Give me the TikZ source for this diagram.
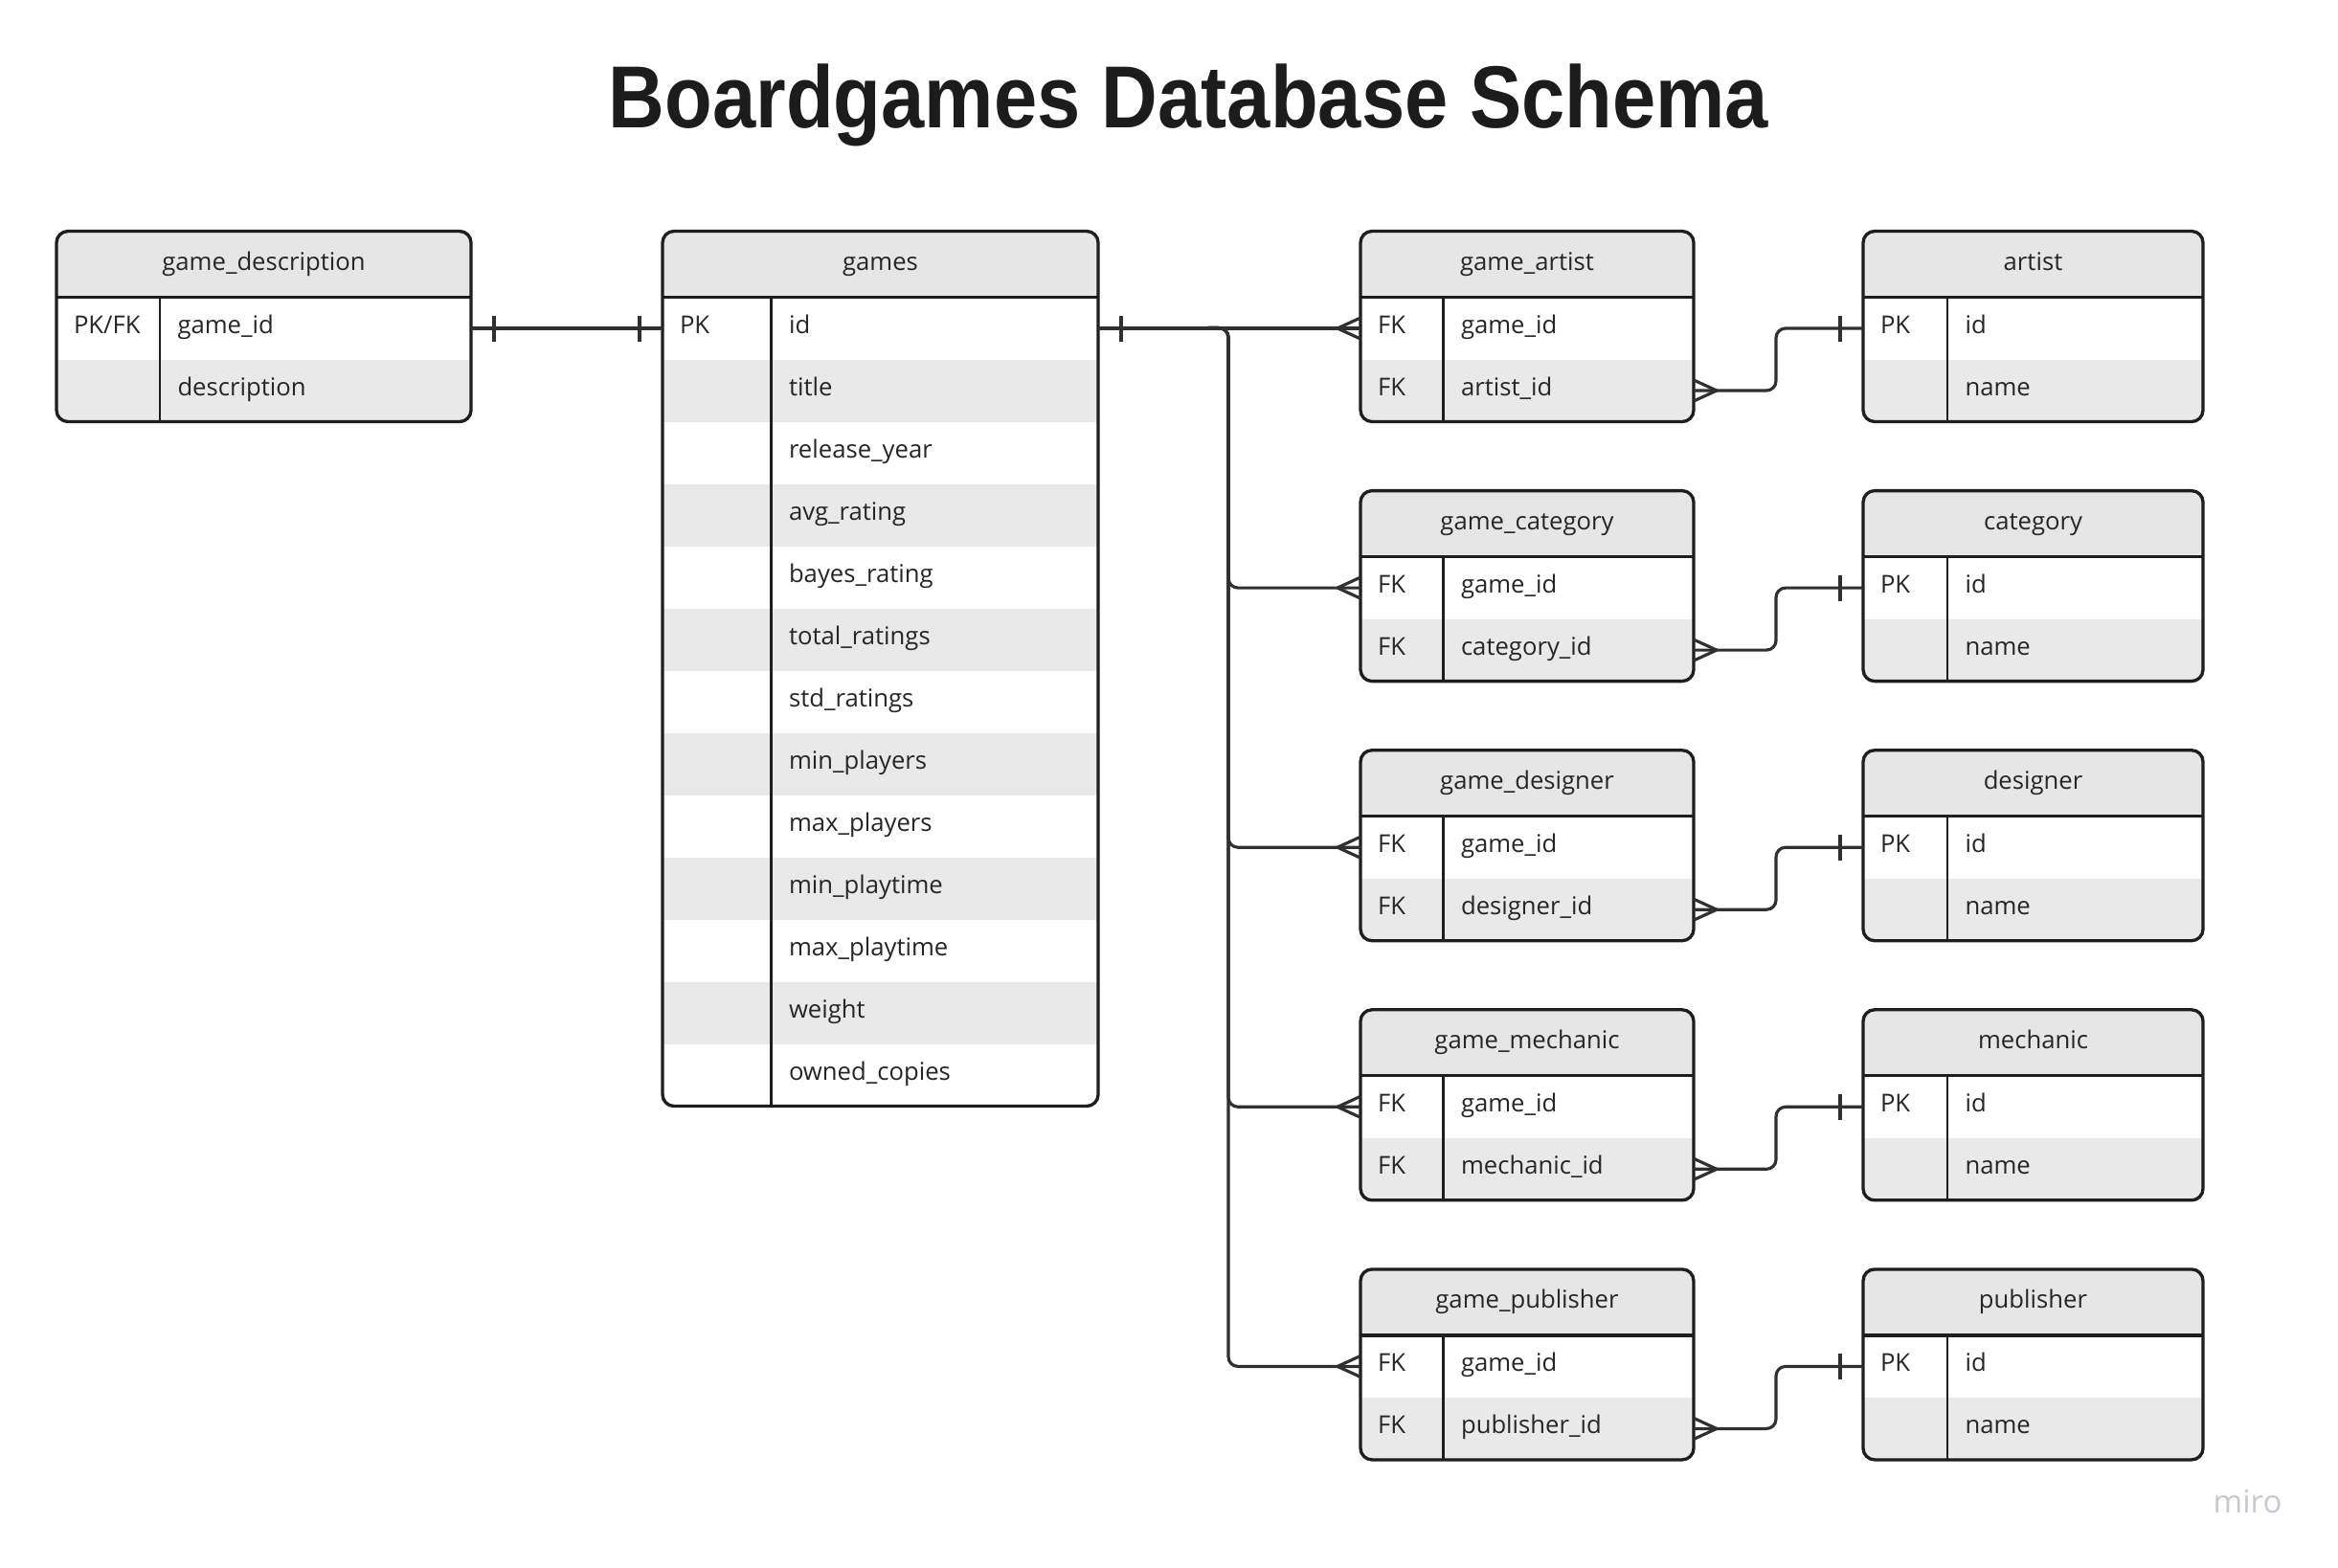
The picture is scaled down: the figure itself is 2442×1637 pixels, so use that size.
\documentclass[tikz,border=0pt]{standalone}
\usepackage{fontspec}
\setmainfont{Open Sans}
\newfontfamily\titlefont{Liberation Sans}
\usepackage{graphicx}
\definecolor{hdrgray}{HTML}{E6E6E6}
\definecolor{rowgray}{HTML}{E9E9E9}
\definecolor{bordercol}{HTML}{1E1E1E}
\definecolor{conncol}{HTML}{303030}
\definecolor{txtcol}{HTML}{262626}
\definecolor{titlecol}{HTML}{1C1C1C}
\definecolor{mirocol}{HTML}{C8C8D0}
\tikzset{
  boxborder/.style={draw=bordercol, line width=1pt},
  coldiv/.style={draw=bordercol, line width=0.75pt},
  conn/.style={draw=conncol, line width=0.95pt, line join=round},
  cell/.style={inner sep=0pt, outer sep=0pt, text=txtcol, font=\fontsize{7.7}{9}\selectfont},
}
% #1 name, #2 left x, #3 top y, #4 width, #5 key col width, #6 title, #7 rows count, #8 rows
\newcommand\ertable[8]{%
  \pgfmathsetmacro\erH{69+65*#7}%
  \begin{scope}
    \clip[rounded corners=3.6pt] (#2,#3) rectangle ++(#4,\erH);
    \fill[hdrgray] (#2,#3) rectangle ++(#4,69);
    \foreach \k/\f [count=\i] in {#8} {
      \pgfmathsetmacro\ry{#3+69+65*(\i-1)}
      \ifodd\i\else \fill[rowgray] (#2,\ry) rectangle ++(#4,65);\fi
    }
  \end{scope}
  \draw[coldiv] (#2+#5,#3+69) -- (#2+#5,#3+\erH);
  \draw[boxborder] (#2,#3+69) -- (#2+#4,#3+69);
  \draw[boxborder, rounded corners=3.6pt] (#2,#3) rectangle ++(#4,\erH);
  \node[cell, anchor=base] (#1-title) at (#2+#4/2,#3+40.5) {#6};
  \foreach \k/\f [count=\i] in {#8} {
    \pgfmathsetmacro\ry{#3+69+65*(\i-1)}
    \node[cell, anchor=base west] (#1-k\i) at (#2+18,\ry+38) {\k};
    \node[cell, anchor=base west] (#1-f\i) at (#2+#5+18.5,\ry+38) {\f};
    \coordinate (#1-\i-w) at (#2,\ry+32.5);
    \coordinate (#1-\i-e) at (#2+#4,\ry+32.5);
  }
}
% one-mark: #1 coordinate, #2 x offset of the bar
\newcommand\erone[2]{\draw[conn] ([shift={(#2,-13.5)}]#1) -- ([shift={(#2,13.5)}]#1);}
% crow foot: #1 coordinate on box edge, #2 x offset of the tip
\newcommand\ermany[2]{\draw[conn] ([shift={(0,-11)}]#1) -- ([shift={(#2,0)}]#1) -- ([shift={(0,11)}]#1);}
\begin{document}
\begin{tikzpicture}[x=0.3pt, y=-0.3pt]
\useasboundingbox (0,0) rectangle (2442,1637);
\fill[white] (0,0) rectangle (2442,1637);

\node[inner sep=0pt, anchor=base, text=titlecol] (title) at (1241.5,133.3)
  {\resizebox{363.3pt}{20pt}{\titlefont\bfseries Boardgames Database Schema}};

\ertable{gd}{59}{241.5}{433}{108}{game\_description}{2}{{PK/FK}/game\_id, {}/description}
\ertable{games}{692}{241.5}{455}{113.5}{games}{13}{PK/id, {}/title, {}/release\_year, {}/avg\_rating, {}/bayes\_rating, {}/total\_ratings, {}/std\_ratings, {}/min\_players, {}/max\_players, {}/min\_playtime, {}/max\_playtime, {}/weight, {}/owned\_copies}

\ertable{ga}{1421}{241.5}{348}{86.5}{game\_artist}{2}{FK/game\_id, FK/artist\_id}
\ertable{gc}{1421}{512.6}{348}{86.5}{game\_category}{2}{FK/game\_id, FK/category\_id}
\ertable{gs}{1421}{783.7}{348}{86.5}{game\_designer}{2}{FK/game\_id, FK/designer\_id}
\ertable{gm}{1421}{1054.8}{348}{86.5}{game\_mechanic}{2}{FK/game\_id, FK/mechanic\_id}
\ertable{gp}{1421}{1325.9}{348}{86.5}{game\_publisher}{2}{FK/game\_id, FK/publisher\_id}

\ertable{ar}{1946}{241.5}{355}{88}{artist}{2}{PK/id, {}/name}
\ertable{ca}{1946}{512.6}{355}{88}{category}{2}{PK/id, {}/name}
\ertable{de}{1946}{783.7}{355}{88}{designer}{2}{PK/id, {}/name}
\ertable{me}{1946}{1054.8}{355}{88}{mechanic}{2}{PK/id, {}/name}
\ertable{pu}{1946}{1325.9}{355}{88}{publisher}{2}{PK/id, {}/name}

% game_description -- games (one to one)
\draw[conn] (gd-1-e) -- (games-1-w);
\erone{gd-1-e}{24}
\erone{games-1-w}{-24}

% games -- junction tables
\coordinate (trunk) at (1283,342.5);
\coordinate (bendR) at (1855,0);
\draw[conn] (games-1-e) -- (ga-1-w);
\foreach \j in {gc,gs,gm,gp} {
  \draw[conn, rounded corners=3pt] (games-1-e) -- (trunk) |- (\j-1-w);
}
\erone{games-1-e}{24}
\foreach \j in {ga,gc,gs,gm,gp} { \ermany{\j-1-w}{-24} }

% junction tables -- entity tables
\foreach \j/\t in {ga/ar, gc/ca, gs/de, gm/me, gp/pu} {
  \draw[conn, rounded corners=3pt] (\j-2-e) -- (\j-2-e -| bendR) |- (\t-1-w);
  \ermany{\j-2-e}{24}
  \erone{\t-1-w}{-24}
}

\node[inner sep=0pt, anchor=base west, text=mirocol, font=\fontsize{9.9}{11}\selectfont] (miro) at (2311,1580) {miro};
\end{tikzpicture}
\end{document}
